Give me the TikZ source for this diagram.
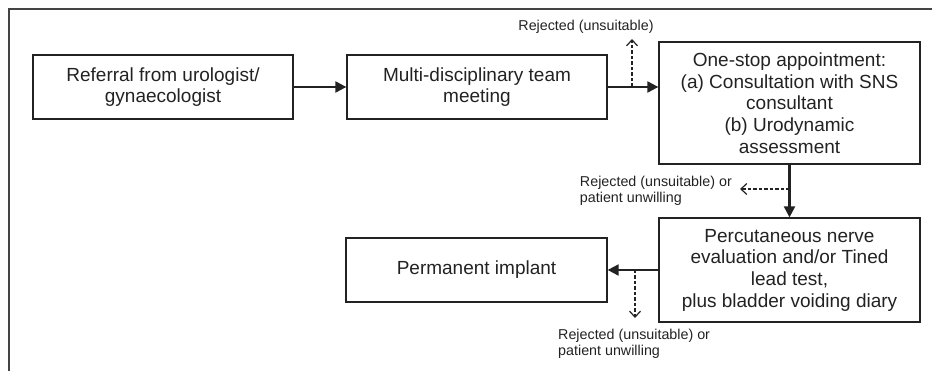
\documentclass[tikz,border=0pt]{standalone}
\usepackage{fontspec}
\setmainfont{Liberation Sans}
\usetikzlibrary{arrows.meta}
\definecolor{ink}{HTML}{222222}
\definecolor{frame}{HTML}{444444}
\begin{document}
\begin{tikzpicture}[x=1pt,y=-1pt,
  stagebox/.style={draw=ink,line width=1.3pt,inner sep=0pt,align=center,
    text=ink,font=\fontsize{19}{21.7}\selectfont},
  flow/.style={draw=ink,line width=2.2pt,-{Triangle[length=11pt,width=11pt]}},
  reject/.style={draw=ink,line width=1.5pt,dash pattern=on 3.5pt off 2pt,
    -{Straight Barb[length=6pt,width=11pt,line width=1.2pt]}},
  note/.style={inner sep=0pt,align=left,text=ink,font=\fontsize{14.3}{16}\selectfont}]
\useasboundingbox (0,0) rectangle (932,371);
\draw[frame,line width=1.4pt] (9,371) -- (9,9) -- (932,9);

\node[stagebox,minimum width=260pt,minimum height=64pt] (ref) at (163,87)
  {Referral from urologist/\\gynaecologist};
\node[stagebox,minimum width=260pt,minimum height=64pt] (mdt) at (477,87)
  {Multi-disciplinary team\\meeting};
\node[stagebox,minimum width=261pt,minimum height=122pt] (one) at (789.5,103)
  {One-stop appointment:\\(a) Consultation with SNS\\consultant\\(b) Urodynamic\\assessment};
\node[stagebox,minimum width=261pt,minimum height=104pt] (pne) at (789.5,270)
  {Percutaneous nerve\\evaluation and/or Tined\\lead test,\\plus bladder voiding diary};
\node[stagebox,minimum width=261pt,minimum height=64pt] (perm) at (476.5,270)
  {Permanent implant};

\coordinate (j1) at (632,87);
\coordinate (t1) at (632,39);
\coordinate (j2) at (789.5,189);
\coordinate (t2) at (740,189);
\coordinate (j3) at (635,270);
\coordinate (t3) at (635,318);

\draw[flow] (ref.east) -- (mdt.west);
\draw[flow] (mdt.east) -- (mdt.east -| one.west);
\draw[flow] (one.south) -- (pne.north);
\draw[flow] (pne.west) -- (perm.east);

\draw[reject] (j1) -- (t1);
\draw[reject] (j2) -- (t2);
\draw[reject] (j3) -- (t3);

\node[note] (n1) at (586,27) {Rejected (unsuitable)};
\node[note,anchor=east] (n2) at (732,191) {Rejected (unsuitable) or\\patient unwilling};
\node[note,anchor=north west] (n3) at (558,329) {Rejected (unsuitable) or\\patient unwilling};
\end{tikzpicture}
\end{document}
